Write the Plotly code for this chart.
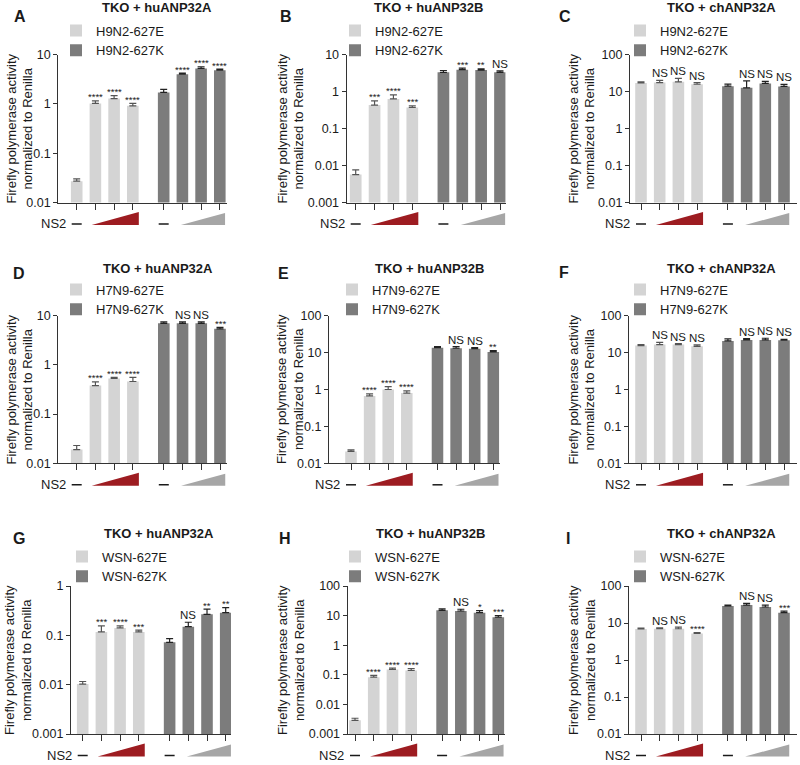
import math
import plotly.graph_objects as go

W, H = 800, 765
FONT = "Liberation Sans, Arial, Helvetica, sans-serif"
TXT = "#1a1a1a"
LIGHT = "#d4d4d4"
DARK = "#7c7c7c"
AXC = "#333333"
RED = "#9d1c21"
GRAYTRI = "#a6a6a6"
ERR_L = "#555555"
ERR_D = "#222222"

# ---------------- text ----------------
panel_letters = ["A", "B", "C", "D", "E", "F", "G", "H", "I"]
panel_titles = ["TKO + huANP32A", "TKO + huANP32B", "TKO + chANP32A"] * 3
strain_names = ["H9N2"] * 3 + ["H7N9"] * 3 + ["WSN"] * 3
decade_values = [0.001, 0.01, 0.1, 1, 10, 100]
decade_labels = ["0.001", "0.01", "0.1", "1", "10", "100"]
y_low_exp = [-2, -3, -2, -2, -2, -2, -3, -3, -2]
y_high_exp = [1, 1, 2, 1, 2, 2, 0, 2, 2]
ytitle = "Firefly polymerase activity<br>normalized to Renilla"

# ---------------- data ----------------
A_627E = [0.027, 1.02, 1.28, 0.91]
A_627E_err = [0.003, 0.13, 0.19, 0.11]
A_627K = [1.70, 4.0, 5.2, 4.8]
A_627K_err = [0.26, 0.2, 0.4, 0.25]
A_sig_E = ["", "****", "****", "****"]
A_sig_K = ["", "****", "****", "****"]

B_627E = [0.0057, 0.43, 0.63, 0.37]
B_627E_err = [0.0019, 0.13, 0.18, 0.04]
B_627K = [3.3, 3.9, 3.8, 3.3]
B_627K_err = [0.4, 0.4, 0.3, 0.3]
B_sig_E = ["", "***", "****", "***"]
B_sig_K = ["", "***", "**", "NS"]

C_627E = [17.0, 17.4, 18.3, 15.8]
C_627E_err = [1.3, 2.6, 4.4, 1.7]
C_627K = [13.9, 12.6, 16.5, 13.7]
C_627K_err = [1.9, 6.7, 2.2, 1.8]
C_sig_E = ["", "NS", "NS", "NS"]
C_sig_K = ["", "NS", "NS", "NS"]

D_627E = [0.019, 0.38, 0.53, 0.46]
D_627E_err = [0.004, 0.07, 0.03, 0.10]
D_627K = [7.0, 7.0, 7.0, 5.4]
D_627K_err = [0.5, 0.5, 0.5, 0.4]
D_sig_E = ["", "****", "****", "****"]
D_sig_K = ["", "NS", "NS", "***"]

E_627E = [0.021, 0.67, 1.0, 0.8]
E_627E_err = [0.002, 0.09, 0.2, 0.12]
E_627K = [13.6, 13.1, 12.8, 10.4]
E_627K_err = [0.9, 1.4, 0.9, 0.9]
E_sig_E = ["", "****", "****", "****"]
E_sig_K = ["", "NS", "NS", "**"]

F_627E = [15.5, 16.5, 16.5, 14.8]
F_627E_err = [1.0, 2.4, 1.1, 1.3]
F_627K = [20.7, 22.1, 22.0, 21.6]
F_627K_err = [2.8, 1.9, 2.5, 1.4]
F_sig_E = ["", "NS", "NS", "NS"]
F_sig_K = ["", "NS", "NS", "NS"]

G_627E = [0.0103, 0.117, 0.141, 0.117]
G_627E_err = [0.0013, 0.039, 0.015, 0.011]
G_627K = [0.072, 0.15, 0.267, 0.288]
G_627K_err = [0.014, 0.034, 0.073, 0.076]
G_sig_E = ["", "***", "****", "***"]
G_sig_K = ["", "NS", "**", "**"]

H_627E = [0.0029, 0.083, 0.151, 0.14]
H_627E_err = [0.0005, 0.012, 0.016, 0.023]
H_627K = [15.1, 14.3, 12.6, 8.8]
H_627K_err = [1.7, 2.1, 2.1, 1.2]
H_sig_E = ["", "****", "****", "****"]
H_sig_K = ["", "NS", "*", "***"]

I_627E = [6.9, 7.0, 7.0, 5.2]
I_627E_err = [0.4, 0.4, 0.7, 0.3]
I_627K = [28.8, 30.6, 27.1, 19.0]
I_627K_err = [1.8, 3.3, 3.5, 2.0]
I_sig_E = ["", "NS", "NS", "****"]
I_sig_K = ["", "NS", "NS", "***"]

panels = [
    (A_627E, A_627E_err, A_627K, A_627K_err, A_sig_E, A_sig_K),
    (B_627E, B_627E_err, B_627K, B_627K_err, B_sig_E, B_sig_K),
    (C_627E, C_627E_err, C_627K, C_627K_err, C_sig_E, C_sig_K),
    (D_627E, D_627E_err, D_627K, D_627K_err, D_sig_E, D_sig_K),
    (E_627E, E_627E_err, E_627K, E_627K_err, E_sig_E, E_sig_K),
    (F_627E, F_627E_err, F_627K, F_627K_err, F_sig_E, F_sig_K),
    (G_627E, G_627E_err, G_627K, G_627K_err, G_sig_E, G_sig_K),
    (H_627E, H_627E_err, H_627K, H_627K_err, H_sig_E, H_sig_K),
    (I_627E, I_627E_err, I_627K, I_627K_err, I_sig_E, I_sig_K),
]

# ---------------- layout geometry (pixels) ----------------
pos_E = [0, 1, 2, 3]
pos_K = [4.65, 5.65, 6.65, 7.65]
BAR_W = 0.62
# (y-axis x, first bar centre, last bar centre, x-axis end)
geom = [
    (58.3, 76.7, 219.8, 226.7),
    (346.7, 355.7, 500.0, 505.5),
    (630.0, 641.0, 784.0, 797.0),
    (58.3, 76.7, 220.0, 227.0),
    (329.0, 351.0, 493.3, 500.0),
    (629.0, 641.0, 784.0, 797.0),
    (71.0, 82.7, 225.7, 231.0),
    (347.7, 355.0, 498.3, 505.0),
    (629.0, 641.0, 784.0, 797.0),
]
rows = [(54.5, 202.5), (315.7, 463.3), (586.0, 734.0)]
title_x = [157, 428, 721, 158, 429, 721, 159, 430, 721]
title_y = [8, 268, 533]
letter_xy = [(20, 16), (286, 16), (565, 16), (19, 273), (283, 273), (564, 272),
             (19, 538), (285, 538), (568, 538)]
ytitle_x = [19, 290, 581, 19, 289.5, 581, 18, 291, 582]
legend_text_x = [93, 372, 657, 93, 369, 657, 99, 372, 657]
legend_row1_y = [31, 290, 557]


def px(x):
    return x / W


def py(y):
    return 1 - y / H


fig = go.Figure()
shapes = []
annotations = []
layout = dict(
    width=W, height=H, margin=dict(l=0, r=0, t=0, b=0, pad=0, autoexpand=False),
    paper_bgcolor="white", plot_bgcolor="white",
    font=dict(family=FONT, color=TXT, size=13),
    barmode="overlay", showlegend=True,
)

for i, (vE, eE, vK, eK, sE, sK) in enumerate(panels):
    n = "" if i == 0 else str(i + 1)
    xa, ya = "x" + n, "y" + n
    r = i // 3
    ax_x, first, last, end = geom[i]
    pitch = (last - first) / (pos_K[-1] - pos_E[0])
    top, bot = rows[r]
    leg = "legend" + n

    layout["xaxis" + n] = dict(
        domain=[px(ax_x), px(end)],
        range=[(ax_x - first) / pitch, (end - first) / pitch],
        anchor=ya, showline=True, linecolor=AXC, linewidth=1.3,
        ticks="outside", tickvals=pos_E + pos_K, ticklen=6, tickwidth=1.3,
        tickcolor=AXC, showticklabels=False, showgrid=False, zeroline=False,
        fixedrange=True,
    )
    lo, hi = y_low_exp[i], y_high_exp[i]
    tv = [v for v in decade_values if 10 ** lo * 0.999 <= v <= 10 ** hi * 1.001]
    tt = [decade_labels[decade_values.index(v)] for v in tv]
    layout["yaxis" + n] = dict(
        domain=[py(bot), py(top)], type="log", range=[lo, hi],
        anchor=xa, showline=True, linecolor=AXC, linewidth=1.3,
        ticks="outside", tickvals=tv, ticktext=tt, ticklen=4, tickwidth=1.3,
        tickcolor=AXC, tickfont=dict(size=12.5, color=TXT),
        showgrid=False, zeroline=False, fixedrange=True,
    )

    fig.add_trace(go.Bar(
        x=pos_E, y=vE, width=BAR_W, name=f"{strain_names[i]}-627E",
        marker=dict(color=LIGHT, line=dict(width=0)),
        error_y=dict(type="data", array=eE, arrayminus=[0] * 4, symmetric=False,
                     color=ERR_L, thickness=1.2, width=3.5),
        xaxis=xa, yaxis=ya, legend=leg, legendgroup=f"g{i}E",
    ))
    fig.add_trace(go.Bar(
        x=pos_K, y=vK, width=BAR_W, name=f"{strain_names[i]}-627K",
        marker=dict(color=DARK, line=dict(width=0)),
        error_y=dict(type="data", array=eK, arrayminus=[0] * 4, symmetric=False,
                     color=ERR_D, thickness=1.2, width=3.5),
        xaxis=xa, yaxis=ya, legend=leg, legendgroup=f"g{i}K",
    ))

    layout[leg] = dict(
        x=px(legend_text_x[i] - 37), y=py(legend_row1_y[r] - 15.5),
        xanchor="left", yanchor="top", bgcolor="rgba(0,0,0,0)",
        font=dict(size=13, color=TXT), tracegroupgap=0,
        traceorder="normal",
    )

    # significance labels
    for p, v, e, s in list(zip(pos_E, vE, eE, sE)) + list(zip(pos_K, vK, eK, sK)):
        if not s:
            continue
        star = s != "NS"
        annotations.append(dict(
            x=p, y=math.log10(v + e), xref=xa, yref=ya, text=s, showarrow=False,
            xanchor="center", yanchor="bottom", yshift=-2.5 if star else 0,
            borderpad=0, font=dict(size=9.5 if star else 11.5, color=TXT),
        ))

    # panel title, letter, y title
    annotations.append(dict(
        x=px(title_x[i]), y=py(title_y[r]), xref="paper", yref="paper",
        text=f"<b>{panel_titles[i]}</b>", showarrow=False,
        xanchor="center", yanchor="middle", font=dict(size=13, color=TXT),
    ))
    lx, ly = letter_xy[i]
    annotations.append(dict(
        x=px(lx), y=py(ly), xref="paper", yref="paper",
        text=f"<b>{panel_letters[i]}</b>", showarrow=False,
        xanchor="center", yanchor="middle", font=dict(size=16, color=TXT),
    ))
    annotations.append(dict(
        x=px(ytitle_x[i]), y=py((top + bot) / 2), xref="paper", yref="paper",
        text=ytitle, showarrow=False, textangle=-90,
        xanchor="center", yanchor="middle", font=dict(size=13, color=TXT),
    ))

    # NS2 dose row
    yb = bot + 22.5
    annotations.append(dict(
        x=px(first - 9), y=py(yb - 1.5), xref="paper", yref="paper",
        text="NS2", showarrow=False, xanchor="right", yanchor="middle",
        font=dict(size=13, color=TXT),
    ))
    dx = 5 / pitch
    for p0 in (pos_E[0], pos_K[0]):
        shapes.append(dict(type="line", xref=xa, yref="paper",
                           x0=p0 - dx, x1=p0 + dx, y0=py(yb - 1), y1=py(yb - 1),
                           line=dict(color=TXT, width=1.5)))
    xl, xr = pos_E[1] - 0.2, pos_E[3] + 0.32
    shapes.append(dict(type="path", xref=xa, yref="paper",
                       path=f"M {xl},{py(yb)} L {xr},{py(yb)} L {xr},{py(yb - 13)} Z",
                       fillcolor=RED, line=dict(width=0)))
    xl, xr = pos_K[1] - 0.08, pos_K[3] + 0.28
    shapes.append(dict(type="path", xref=xa, yref="paper",
                       path=f"M {xl},{py(yb)} L {xr},{py(yb)} L {xr},{py(yb - 12)} Z",
                       fillcolor=GRAYTRI, line=dict(width=0)))

layout["shapes"] = shapes
layout["annotations"] = annotations
fig.update_layout(**layout)
fig.write_html("out.html", config={"displayModeBar": False},
               post_script="document.body.style.margin='0';document.body.style.padding='0';")
